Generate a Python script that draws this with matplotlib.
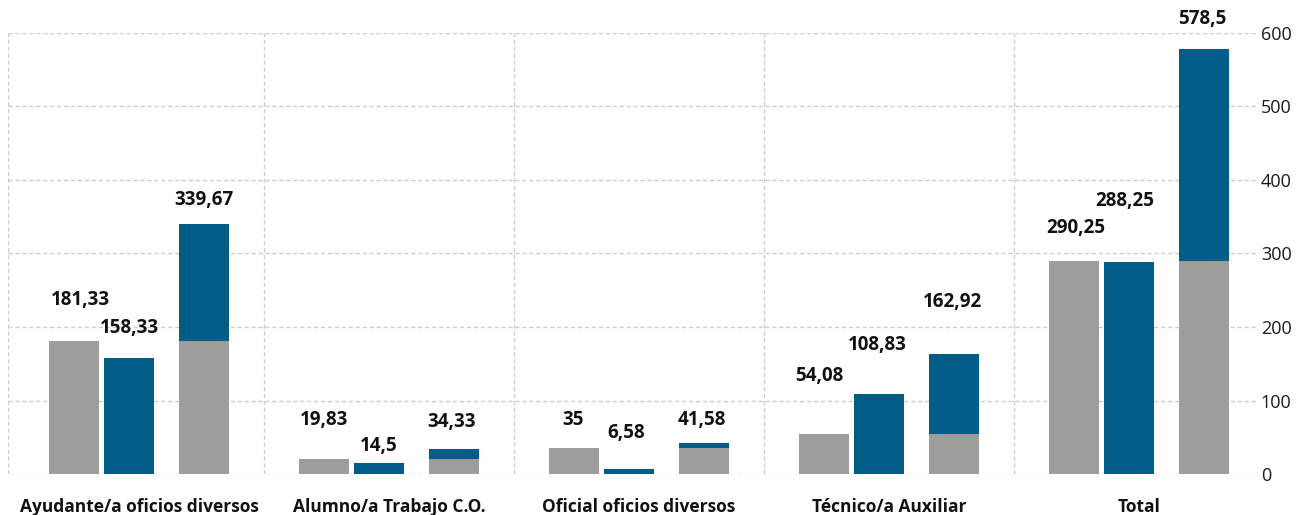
import matplotlib
matplotlib.use("Agg")
import matplotlib.pyplot as plt
import numpy as np
from matplotlib.ticker import FixedLocator

categories = ["Ayudante/a oficios diversos", "Alumno/a Trabajo C.O.", "Oficial oficios diversos",
              "Técnico/a Auxiliar", "Total"]
mujeres = [181.33, 19.83, 35, 54.08, 290.25]
hombres = [158.33, 14.5, 6.58, 108.83, 288.25]
totales = [339.67, 34.33, 41.58, 162.92, 578.5]
y_ticks = [0, 100, 200, 300, 400, 500, 600]

GREY = "#9d9d9c"
BLUE = "#005d87"
GRID = "#cccccc"

# label nudges in pixels (dx, dy above bar top), per group: grey, blue, stacked
label_offsets = [
    [(6, 41), (0, 30), (0, 24)],
    [(0, 39), (0, 17), (-2, 27)],
    [(-1, 28), (-3, 36), (-2, 23)],
    [(-5, 58), (-2, 49), (-2, 52)],
    [(2, 33), (-4, 61), (-2, 30)],
]

plt.rcParams["font.family"] = ["Open Sans", "DejaVu Sans"]

fig = plt.figure(figsize=(13.06, 5.15), dpi=100)
ax = fig.add_axes([8 / 1306, 41 / 515, 1250 / 1306, 441 / 515])

x = np.arange(len(categories))
w = 0.2
ax.bar(x - 0.26, mujeres, w, color=GREY, zorder=3)
ax.bar(x - 0.04, hombres, w, color=BLUE, zorder=3)
# third bar: both series stacked
ax.bar(x + 0.26, mujeres, w, color=GREY, zorder=3)
ax.bar(x + 0.26, hombres, w, bottom=mujeres, color=BLUE, zorder=3)

def fmt(v):
    s = f"{v:.2f}".rstrip("0").rstrip(".")
    return s.replace(".", ",")

for i in range(len(categories)):
    series = [(x[i] - 0.26, mujeres[i]), (x[i] - 0.04, hombres[i]), (x[i] + 0.26, totales[i])]
    for (bx, v), (dx, dy) in zip(series, label_offsets[i]):
        ax.annotate(fmt(v), (bx, v), xytext=(dx, dy), textcoords="offset pixels",
                    ha="center", va="center", fontsize=13.5, fontweight="bold",
                    color="#111111", annotation_clip=False)

ax.set_xlim(-0.524, 4.476)
ax.set_ylim(0, 600)

ax.set_xticks(x)
ax.set_xticklabels(categories, fontsize=12.5, fontweight="bold", color="#111111")
ax.xaxis.set_minor_locator(FixedLocator([-0.524, 0.5, 1.5, 2.5, 3.5]))
ax.tick_params(axis="x", which="both", length=0, pad=17)

ax.set_yticks(y_ticks)
ax.yaxis.tick_right()
ax.tick_params(axis="y", length=0, pad=2, labelsize=13, labelcolor="#1a1a1a")

ax.grid(axis="y", which="major", color=GRID, linestyle=(0, (3, 2)), linewidth=1, zorder=0)
ax.grid(axis="x", which="minor", color=GRID, linestyle=(0, (3, 2)), linewidth=1, zorder=0)
ax.grid(axis="x", which="major", visible=False)

for sp in ax.spines.values():
    sp.set_visible(False)

fig.savefig("out.png", dpi=100)
